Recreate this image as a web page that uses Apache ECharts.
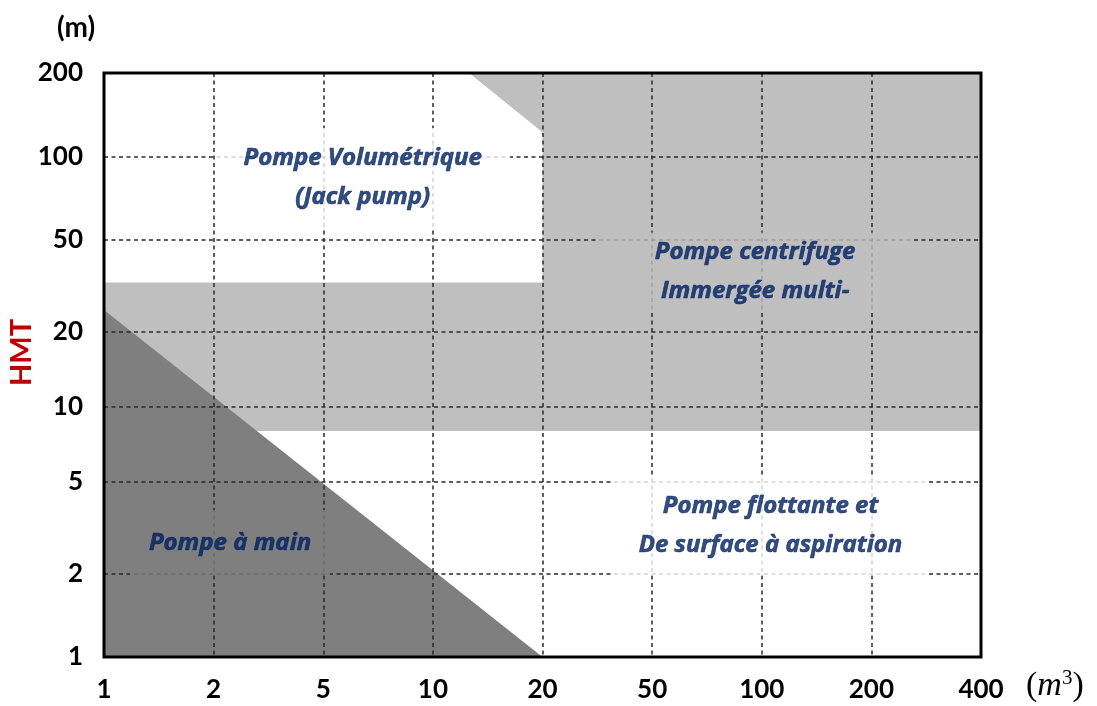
<!DOCTYPE html>
<html>
<head>
<meta charset="utf-8">
<script src="https://cdn.jsdelivr.net/npm/echarts@6/dist/echarts.min.js"></script>
<style>
  html, body { margin: 0; padding: 0; background: #fff; }
  #grafik { width: 1097px; height: 706px; }
</style>
</head>
<body>
<div id="grafik"></div>
<script>
// axis labels (x evenly spaced, y at the positions)
var xLabels = ['1', '2', '5', '10', '20', '50', '100', '200', '400'];
var yLabels = ['1', '2', '5', '10', '20', '50', '100', '200'];
var yPos = [0, 1, 2.1, 3, 3.9, 5, 6, 7];

// regions, in axis units [x, y]
var lightRegion = [[3.33, 7], [8, 7], [8, 2.71], [0, 2.71], [0, 4.49], [4, 4.49], [4, 6.29]];
var darkRegion = [[0, 4.16], [4, 0], [0, 0]];

// region names and where they sit
var regionNames = [
  'Pompe Volumétrique\n(Jack pump)',
  'Pompe centrifuge\nImmergée multi-',
  'Pompe à main',
  'Pompe flottante et\nDe surface à aspiration'
];
var nameX = [2.36, 5.94, 1.15, 6.08];
var nameY = [5.74, 4.62, 1.37, 1.58];

var regions = [lightRegion, darkRegion];
var regionColors = ['#bfbfbf', '#7f7f7f'];
var boxStyles = [
  { backgroundColor: '#ffffff', width: 295, padding: [11, 0] },
  { backgroundColor: '#bfbfbf', width: 315, padding: [0, 0] },
  { backgroundColor: '#7f7f7f', width: 200, padding: [13, 0] },
  { backgroundColor: '#ffffff', width: 316, padding: [11, 0] }
];

var grafik = echarts.init(document.getElementById('grafik'));

function yLabel(v) {
  for (var i = 0; i < yPos.length; i++) {
    if (Math.abs(yPos[i] - v) < 1e-6) return yLabels[i];
  }
  return '';
}

var gridLine = { show: true, lineStyle: { color: '#2a2a2a', width: 1.5, type: [4, 3.5] } };

var option = {
  animation: false,
  grid: {
    left: 104, top: 73, width: 877, height: 584,
    show: true, z: 20,
    backgroundColor: 'transparent',
    borderColor: '#000', borderWidth: 3
  },
  xAxis: {
    type: 'value', min: 0, max: 8, interval: 1, z: 5,
    axisLine: { show: false },
    axisTick: { show: false },
    splitLine: gridLine,
    axisLabel: {
      margin: 20,
      fontFamily: 'Lato', fontWeight: 'bold', fontSize: 26, color: '#000',
      formatter: function (v) { return xLabels[v]; }
    }
  },
  yAxis: {
    type: 'value', min: 0, max: 7, z: 5,
    axisLine: { show: false },
    axisTick: { show: false, customValues: yPos },
    splitLine: gridLine,
    axisLabel: {
      margin: 21, customValues: yPos,
      fontFamily: 'Lato', fontWeight: 'bold', fontSize: 26, color: '#000',
      formatter: yLabel
    }
  },
  graphic: [
    { type: 'text', left: 57, top: 14, z: 30,
      style: { text: '(m)', font: 'bold 28px Lato', fill: '#000' } },
    { type: 'text', x: 22, y: 386, rotation: Math.PI / 2, z: 30,
      style: { text: 'HMT', font: 'bold 29px Lato', fill: '#c00000', align: 'left', verticalAlign: 'middle' } },
    { type: 'text', left: 1026, top: 668, z: 30,
      style: {
        text: '{p|(}{m|m}{s|3}{p|)}',
        rich: {
          p: { font: '34px "Liberation Serif"', fill: '#000' },
          m: { font: 'italic 34px "Liberation Serif"', fill: '#000' },
          s: { font: '21px "Liberation Serif"', fill: '#000', verticalAlign: 'top', padding: [0, 0, 15, 0] }
        }
      } }
  ],
  series: [
    {
      type: 'custom', z: 1, silent: true,
      data: regions.map(function (r, i) { return [i]; }),
      renderItem: function (params, api) {
        var i = params.dataIndex;
        return {
          type: 'polygon',
          shape: { points: regions[i].map(function (p) { return api.coord(p); }) },
          style: { fill: regionColors[i] }
        };
      }
    },
    {
      type: 'scatter', z: 10, silent: true,
      symbolSize: 1,
      itemStyle: { color: 'transparent' },
      label: {
        show: true, position: 'inside',
        fontFamily: '"Open Sans"', fontStyle: 'italic', fontWeight: 'bold',
        fontSize: 24, lineHeight: 39, color: '#002060', align: 'center',
        textBorderColor: '#002060', textBorderWidth: 0.6,
        formatter: function (p) { return p.name; }
      },
      data: regionNames.map(function (n, i) {
        return { name: n, value: [nameX[i], nameY[i]], label: boxStyles[i] };
      })
    }
  ]
};

grafik.setOption(option);
</script>
</body>
</html>
